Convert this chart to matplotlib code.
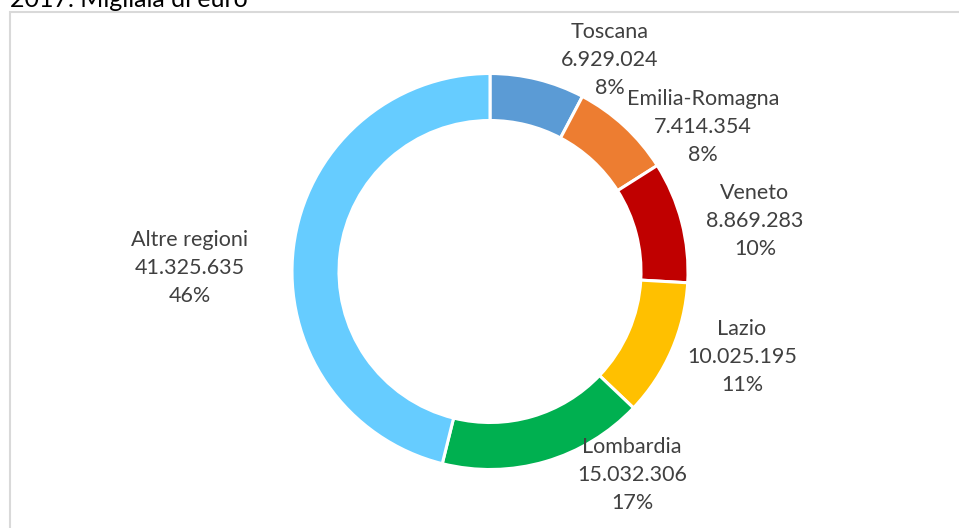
import numpy as np
import matplotlib.pyplot as plt
from matplotlib.patches import Rectangle

# Data
regions = ['Toscana', 'Emilia-Romagna', 'Veneto', 'Lazio', 'Lombardia', 'Altre regioni']
values = [6929024, 7414354, 8869283, 10025195, 15032306, 41325635]
colors = ['#5B9BD5', '#ED7D31', '#C00000', '#FFC000', '#00B050', '#66CCFF']

# label centres in pixel coords (x, y from top), layout only
label_pos = [(610, 60), (703, 127), (755, 221), (742, 357), (632, 475), (190, 268)]

W, H = 959, 528
plt.rcParams['font.family'] = ['Lato', 'DejaVu Sans']

fig = plt.figure(figsize=(W / 100, H / 100), dpi=100)
ax = fig.add_axes([0, 0, 1, 1])

# chart frame
ax.add_patch(Rectangle((10, -20), W + 20, H - 12 + 20, fill=False,
                       edgecolor='#D9D9D9', linewidth=1.5))

cx, cy, R = 490, H - 271.5, 198
ax.pie(values, colors=colors, startangle=90, counterclock=False,
       center=(cx, cy), radius=R, frame=True,
       wedgeprops=dict(width=47, edgecolor='white', linewidth=2.2))
ax.set_xlim(0, W)
ax.set_ylim(0, H)
ax.axis('off')

total = sum(values)
for name, v, (px, py) in zip(regions, values, label_pos):
    txt = f"{name}\n{v:,}".replace(',', '.') + f"\n{round(100 * v / total):d}%"
    ax.text(px, H - py, txt, ha='center', va='center', fontsize=15.5,
            color='#404040', linespacing=1.5)

# title cut off at top of the image
fig.text(10 / W, 1 - 7 / H, '2017. Migliaia di euro', ha='left', va='baseline',
         fontsize=18, color='#000000')

fig.savefig('out.png', dpi=100)
